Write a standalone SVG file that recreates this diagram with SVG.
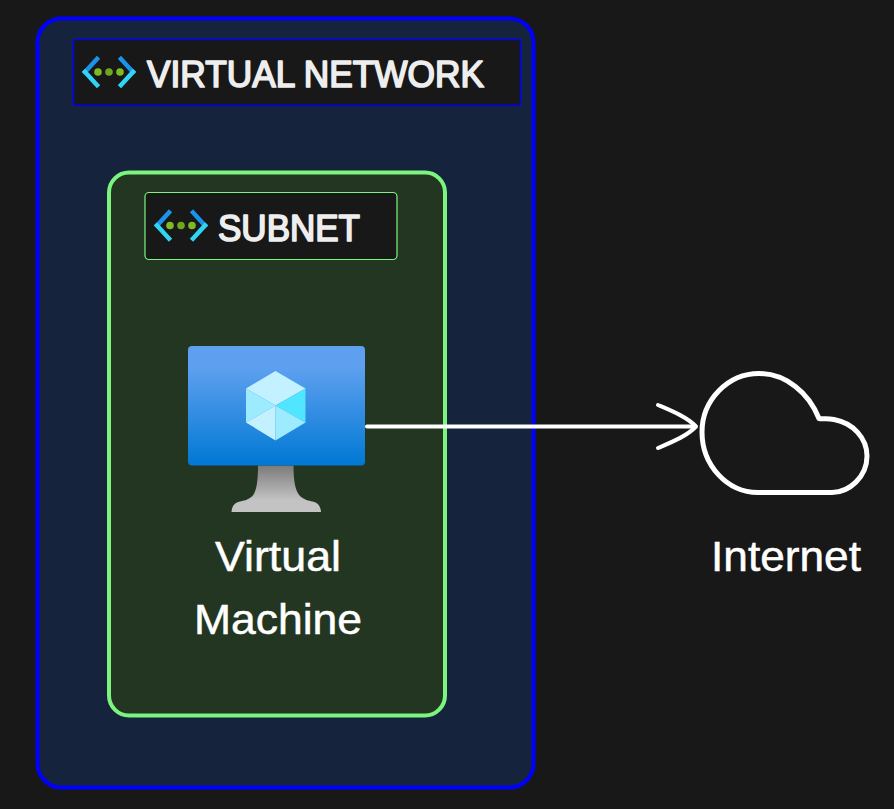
<svg xmlns="http://www.w3.org/2000/svg" width="894" height="809" viewBox="0 0 894 809">
<style>
.t{font-family:"Liberation Sans","DejaVu Sans",sans-serif;fill:#eeeeee;stroke:#eeeeee;stroke-width:1.700px;stroke-linejoin:round;font-size:36px}
.l{font-size:42px;fill:#fff;stroke:#fff;stroke-width:.5px;font-family:"Liberation Sans",sans-serif}
.line{fill:none;stroke:#fff;stroke-linecap:round;stroke-linejoin:round}
</style>
<defs>
<linearGradient id="scr" x1="0" y1="0" x2="0" y2="1"><stop offset="0" stop-color="#5ea0ef"/><stop offset=".18" stop-color="#5ea0ef"/><stop offset="1" stop-color="#0078d4"/></linearGradient>
<linearGradient id="st" x1="0" y1="0" x2="0" y2="1"><stop offset="0" stop-color="#7b7b7b"/><stop offset=".75" stop-color="#c3c3c3"/><stop offset="1" stop-color="#c3c3c3"/></linearGradient>
<g id="net">
<path d="M8 -13L-4 0" fill="none" stroke="#1b93eb" stroke-width="4.500" stroke-linecap="square"/>
<path d="M-4 0L8 13" fill="none" stroke="#32d4f5" stroke-width="4.500" stroke-linecap="square"/>
<path d="M32 -13L44 0" fill="none" stroke="#1b93eb" stroke-width="4.500" stroke-linecap="square"/>
<path d="M44 0L32 13" fill="none" stroke="#32d4f5" stroke-width="4.500" stroke-linecap="square"/>
<circle cx="9" cy="0" r="3.800" fill="#7fba22"/><circle cx="20" cy="0" r="3.800" fill="#6ea61d"/><circle cx="31" cy="0" r="3.800" fill="#7fba22"/>
</g>
</defs>
<rect width="894" height="809" fill="#181818"/>
<g id="vnet">
<rect x="37.500" y="18.500" width="496" height="769" rx="24" fill="#15233d" stroke="#0000ff" stroke-width="4"/>
<rect x="73.500" y="39.500" width="447" height="66" rx="2" fill="#181818" stroke="#0000ff" stroke-width="1.500"/>
<use href="#net" x="89" y="72"/>
<text class="t" x="147" y="86.500" textLength="337" lengthAdjust="spacingAndGlyphs">VIRTUAL NETWORK</text>
</g>
<g id="subnet">
<rect x="109" y="172.500" width="336" height="543" rx="20" fill="#233621" stroke="#7bf57e" stroke-width="4"/>
<rect x="145" y="192.500" width="252" height="67" rx="4" fill="#181818" stroke="#7bf57e" stroke-width="1.200"/>
<use href="#net" x="161" y="225.500"/>
<text class="t" x="218" y="240.500" textLength="142" lengthAdjust="spacingAndGlyphs">SUBNET</text>
</g>
<g id="vm">
<path d="M258 465.500h35.500c0 14 1.500 26 7 31 5 4 8 4 12 5 5 1 8 4 8.500 10.500h-89.500c.5-6.500 3.500-9.500 8.500-10.500 4-1 7-1 12-5 5-5 6-17 6-31z" fill="url(#st)"/>
<rect x="188" y="346" width="177" height="119.500" rx="4" fill="url(#scr)"/>
<path d="M275.500 371L305.500 388.500L275.500 405.500L246 388.500z" fill="#c3f1ff"/>
<path d="M246 388.500L275.500 405.500L246 422.500z" fill="#9cebff"/>
<path d="M305.500 388.500V422.500L275.500 405.500z" fill="#50e6ff"/>
<path d="M246 422.500L275.500 405.500V440.500z" fill="#c3f1ff"/>
<path d="M275.500 405.500L305.500 422.500L275.500 440.500z" fill="#9cebff"/>
<text class="l" x="215" y="571" textLength="126" lengthAdjust="spacingAndGlyphs">Virtual</text>
<text class="l" x="194" y="634" textLength="168" lengthAdjust="spacingAndGlyphs">Machine</text>
</g>
<g id="internet">
<path class="line" stroke-width="5" d="M759 373.500C786 373.500 809 393 819 418.500C821 419.500 826 418 834 419.500C853 423 867 438 867 456C867 477 849 492.500 832 492.500H758C727 492.500 702 465 702 432C702 400 728 373.500 759 373.500Z"/>
<text class="l" x="711" y="571" textLength="150" lengthAdjust="spacingAndGlyphs">Internet</text>
</g>
<g id="connectors">
<path class="line" stroke-width="4" d="M367 426.500H695"/>
<path class="line" stroke-width="4" d="M658 405C672 411 687 417 696 426.500C687 436 672 442 658 448"/>
</g>
</svg>
